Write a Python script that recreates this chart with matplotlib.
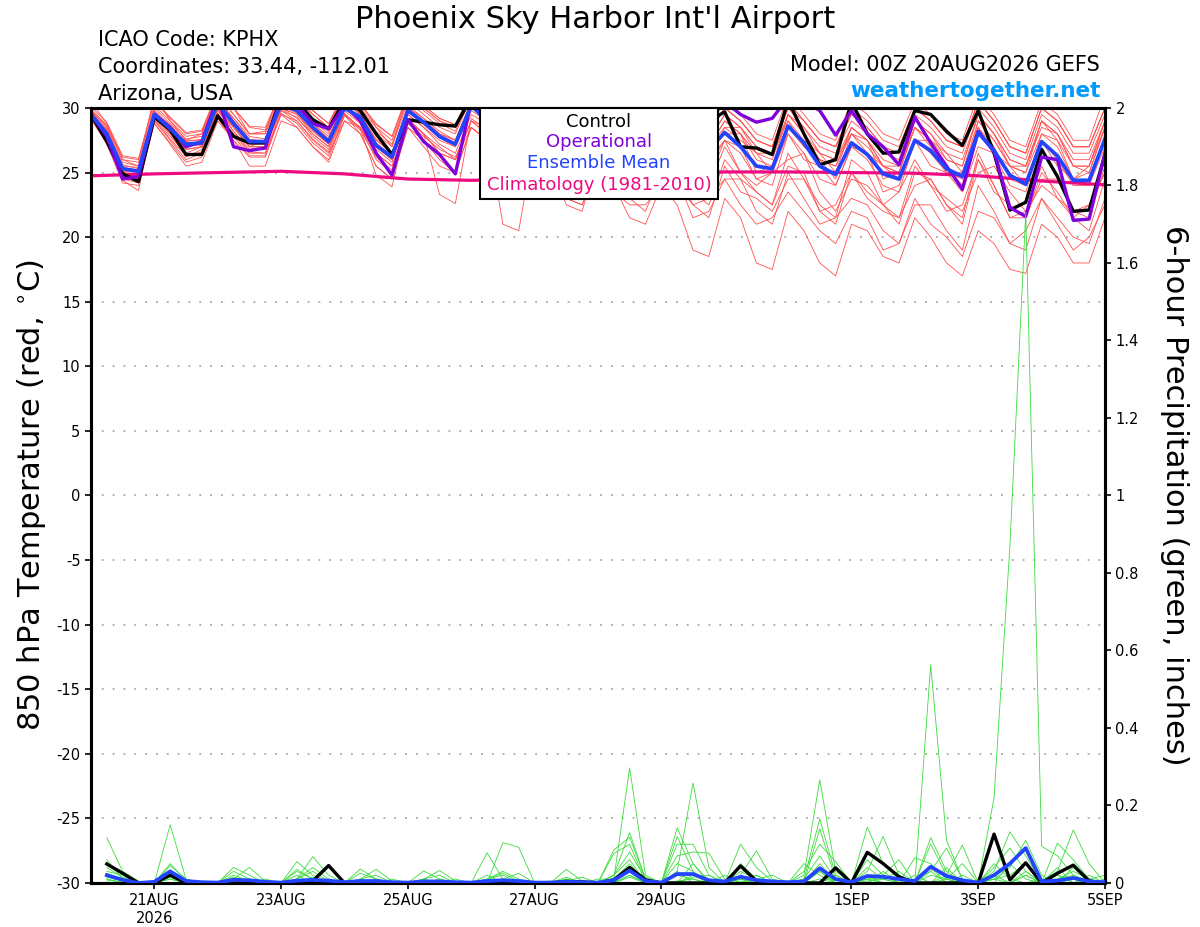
import matplotlib
matplotlib.use("Agg")
import matplotlib.pyplot as plt
from matplotlib.patches import Rectangle

# Horas de pronóstico (cada 6 h desde 00Z 20AUG2026)
horas = list(range(0, 385, 6))
horas_prec = list(range(6, 385, 6))
horas_clim = list(range(0, 385, 24))

# Temperatura a 850 hPa (°C)
control_t = [29.5, 27.4, 24.9, 24.3, 29.3, 28.3, 26.4, 26.4, 29.4, 27.8, 27.3, 27.3,
             30.8, 30.5, 29.1, 28.4, 30.6, 29.8, 28.0, 26.4, 29.1, 28.9, 28.7, 28.6,
             30.8, 29.5, 28.0, 27.5, 30.2, 29.0, 27.5, 27.0, 30.0, 28.8, 27.0, 26.5,
             30.2, 28.5, 27.5, 29.0, 29.7, 27.0, 26.9, 26.4, 30.6, 28.0, 25.6, 26.0,
             30.5, 28.0, 26.5, 26.6, 29.8, 29.5, 28.2, 27.1, 29.8, 26.5, 22.1, 22.7,
             26.8, 24.7, 22.0, 22.1, 26.4]
operacional_t = [29.5, 27.8, 24.5, 24.7, 29.5, 28.5, 27.0, 27.4, 30.8, 27.0, 26.7, 26.9,
                 30.8, 30.3, 28.8, 28.4, 30.2, 29.0, 26.5, 24.8, 29.1, 27.4, 26.4, 24.9,
                 30.5, 29.0, 27.5, 26.5, 30.0, 28.5, 27.0, 26.5, 29.5, 28.0, 26.5, 26.0,
                 30.2, 30.4, 30.3, 30.5, 30.5, 29.5, 28.9, 29.2, 30.8, 30.6, 29.8, 27.9,
                 29.8, 28.0, 27.0, 25.6, 29.3, 27.3, 25.5, 23.7, 28.2, 26.6, 22.3, 21.6,
                 26.2, 26.0, 21.3, 21.4, 26.5]
media_t = [29.5, 28.0, 25.3, 25.1, 29.5, 28.4, 27.2, 27.3, 30.4, 28.8, 27.4, 27.4,
           30.3, 29.8, 28.5, 27.4, 30.0, 29.3, 27.1, 26.2, 29.8, 28.9, 27.8, 27.2,
           30.2, 29.0, 27.5, 26.8, 29.3, 28.0, 26.5, 26.0, 28.8, 27.5, 26.2, 25.8,
           28.5, 27.5, 26.5, 26.8, 28.1, 27.0, 25.5, 25.3, 28.6, 27.3, 25.5, 24.85,
           27.3, 26.4, 24.9, 24.5, 27.5, 26.7, 25.3, 24.7, 28.1, 26.7, 24.8, 24.1,
           27.4, 26.3, 24.4, 24.4, 27.6]
climatologia_t = [24.75, 24.9, 25.0, 25.1, 24.9, 24.5, 24.4, 24.5, 24.7,
                  24.9, 25.05, 25.05, 25.0, 24.95, 24.75, 24.35, 24.05]

miembros_t = [
    [30.5, 28.8, 26, 25.5, 31, 29, 27.5, 28, 31.5, 30, 28, 28.2, 31.5, 31, 29.5, 28.5,
     31.5, 30.5, 28.5, 27, 31, 30, 29, 28.5, 31.5, 31, 29.5, 28.5, 30.5, 29.5, 28, 27.5,
     30.5, 29.5, 28, 27.5, 30.5, 29.5, 28.5, 28, 30, 29, 27.5, 27, 30.5, 29, 27.5, 27,
     29.5, 28.5, 27, 26.5, 30, 29, 27.5, 27, 30.5, 29, 27, 26.5, 30, 29, 27, 27, 30],
    [29.8, 28.5, 25.8, 25.5, 29.8, 28.5, 27, 27.2, 30.5, 29, 27.5, 27.2, 30.5, 30, 28.8, 27.8,
     30.5, 29.5, 27.5, 26.5, 30.2, 29.2, 28, 27.5, 30.5, 30, 28.5, 27.5, 29.5, 28.5, 27, 26.5,
     29, 28, 26.5, 26, 29.5, 28.5, 27.5, 27, 29, 28, 26.5, 26, 29.5, 28, 26.5, 26,
     28, 27, 25.5, 25, 28.5, 27.5, 26, 25.5, 29.5, 28, 26, 25.5, 29, 27.5, 25.5, 25.5, 29],
    [29.2, 27.5, 24.5, 24.2, 29, 27.5, 26, 26.5, 29.5, 28, 26.5, 26.5, 29.5, 29, 27.5, 26.5,
     29, 28.5, 26, 25, 29, 28, 26.5, 26, 29, 28.5, 27, 26, 27.5, 26.5, 25, 24.5,
     27, 26.5, 25.5, 24, 26, 25.5, 23, 24.5, 27.5, 25, 24, 25, 26, 26.5, 23.5, 22,
     24.5, 24, 22.5, 23.5, 26, 24, 23, 22, 25, 25.5, 23.5, 22, 24, 23, 21.5, 22.5, 25],
    [29.5, 28, 25.2, 25, 29.5, 28.2, 27.5, 27.5, 30.2, 28.5, 27, 27.5, 30, 29.5, 28.2, 27.2,
     30.2, 29, 27, 26, 29.5, 28.5, 27.5, 27, 30, 29.2, 27.5, 26.5, 29, 27.5, 26, 25.5,
     28.5, 27, 25.5, 25, 28.5, 27.5, 26, 26, 27.5, 26.5, 24.5, 24, 28, 26.5, 24.5, 24,
     27, 26, 24, 23.5, 27.5, 26.5, 25, 24.5, 28.5, 27, 24.5, 24, 27.5, 26, 24, 24, 28],
    [29.6, 28.2, 25, 24.8, 29.2, 27.8, 26.5, 27, 29.8, 28.5, 27, 27, 30, 29.2, 28, 27,
     29.5, 28.5, 26.5, 25.5, 29, 28, 27, 26, 29, 28, 26.5, 25.5, 28, 26.5, 25, 24.5,
     27.5, 25.5, 24, 24.5, 26, 24, 22.5, 23, 24.5, 24.5, 22, 21, 25, 23, 21, 21.5,
     23, 22.5, 20.5, 19.5, 22.5, 22.5, 20.5, 19, 24, 22, 19.5, 20.5, 23, 21.5, 20, 19.5, 23],
    [29.4, 27.8, 25.5, 25.4, 29.6, 28.6, 27.2, 27.1, 30.6, 29.2, 27.8, 27.6, 30.8, 30.2, 29, 28,
     30.8, 29.8, 28, 27, 30.5, 29.5, 28.5, 28, 30.8, 30.2, 28.8, 27.8, 30, 29, 27.5, 27,
     30, 29, 27.5, 27, 30, 29, 27.5, 27.5, 29.5, 28.5, 27, 26.5, 30, 28.5, 27, 26.5,
     29, 28, 26.5, 26, 29.5, 28.5, 27, 26.5, 30, 28.5, 26.5, 26, 29.5, 28.5, 26.5, 26.5, 29.5],
    [29.3, 27.2, 24.2, 24, 28.8, 27.3, 25.8, 26.2, 29.2, 27.5, 26.2, 26.2, 29.5, 28.5, 27, 26,
     29.5, 28, 25.5, 24.5, 28.5, 27, 25.5, 25, 28.5, 27.5, 25.5, 24.5, 27, 25.5, 23.5, 23,
     26, 24, 23, 22, 25, 25, 22.5, 21.5, 25.5, 23.5, 23, 22, 24.5, 24.5, 22, 21,
     25, 23, 22, 21.5, 24, 24.5, 22.5, 21, 26, 24, 21.5, 22, 25.5, 23, 22, 22.5, 25],
    [29.7, 28.4, 25.6, 25.3, 30, 28.8, 27.6, 27.8, 31, 29.5, 28, 28, 31, 30.5, 29.2, 28.2,
     31, 30, 28.2, 27.2, 30.8, 29.8, 28.8, 28.2, 31, 30.5, 29, 28, 30.5, 29.5, 28, 27.5,
     30.5, 29.5, 28, 27.5, 30.5, 29.5, 28.5, 28, 30, 29, 27.5, 27, 30, 29, 27.5, 27,
     29.5, 28.5, 27, 26.5, 30, 29, 27.5, 27, 30.5, 29, 27, 26.5, 30, 29, 27, 27, 30],
    [29.5, 27.7, 24.8, 24.5, 29.3, 28, 26.8, 27, 30, 28.2, 26.8, 27, 29.8, 29.3, 27.8, 26.8,
     29.8, 28.8, 26.8, 25.8, 29.5, 28.5, 27.2, 26.5, 29.5, 28.8, 27.2, 26.2, 28.5, 27.5, 26, 25.5,
     28, 27.5, 25.5, 26, 28.5, 26.5, 25, 25.5, 27.5, 27, 24.5, 25, 28, 26, 25.5, 24,
     27, 26.5, 23.5, 24, 27.5, 25.5, 25, 23.5, 27, 26.5, 24, 23.5, 27.5, 25.5, 24.5, 24, 27],
    [29.8, 28.6, 26, 25.8, 30.2, 29, 27.8, 28, 31, 29.5, 28, 28, 31, 30.5, 29.5, 28.5,
     31, 30, 28.5, 27.5, 31, 30, 29, 28.5, 31, 30.5, 29, 28, 30.5, 29.5, 28, 27.5,
     30, 29, 27.5, 27, 30, 29, 28, 27.5, 29.5, 28.5, 27, 26.5, 29.5, 28.5, 26.5, 26,
     28.5, 27.5, 26, 25.5, 29, 28, 26.5, 26, 29.5, 28, 26, 25.5, 29, 28, 26, 26, 29],
    [29.2, 27.6, 24.6, 24.3, 28.8, 27.2, 25.5, 25.8, 29, 27.5, 25.5, 25.5, 29, 28.5, 27, 25.8,
     29, 28, 25.5, 24.5, 28.5, 27.5, 26, 25, 28.5, 27.5, 25.5, 24, 26.5, 25, 23, 22.5,
     25.5, 23.5, 22.5, 22.5, 24, 24.5, 21.5, 22, 24.5, 22.5, 21, 21.5, 23.5, 22, 20.5, 19.5,
     22, 21.5, 19, 19.5, 23, 21, 20, 18.5, 22, 21.5, 19.5, 19, 23, 21, 19, 20, 22.5],
    [29.6, 28.3, 25.4, 25.2, 29.7, 28.7, 27.4, 27.6, 30.7, 29.2, 27.6, 27.4, 30.5, 30, 28.8, 27.6,
     30.5, 29.5, 27.6, 26.5, 30, 29, 28, 27.5, 30.2, 29.5, 28, 27, 29.5, 28.5, 27, 26.5,
     29.5, 28.5, 27.5, 26, 29.5, 28, 27.5, 27, 28.5, 28.5, 26.5, 26.5, 29, 27.5, 26.5, 25,
     28.5, 27.5, 25.5, 25.5, 28.5, 27.5, 26.5, 25, 29, 27.5, 25.5, 25.5, 28.5, 28, 25.5, 25, 28.5],
    [29.4, 27.9, 24.4, 23.6, 29.4, 28, 26.2, 26.8, 29.8, 28.2, 26.6, 26.5, 29.8, 29, 27.6, 26.6,
     29.6, 28.4, 24.8, 23.9, 29.2, 28, 23.3, 22.6, 29.2, 28.3, 21, 20.5, 27.5, 26, 22.5, 22,
     26.5, 25, 24, 23, 26.5, 26, 23.5, 22.5, 26, 24.5, 23.5, 22.5, 25.5, 25, 22, 22.5,
     25, 23.5, 22.5, 21.5, 25.5, 24, 22, 22.5, 26, 23.5, 22.5, 21.5, 24.5, 24.5, 22, 21.5, 25.5],
    [29.3, 27.5, 24.9, 24.7, 29.4, 28, 26.8, 27, 30, 28.5, 27, 27, 30, 29.5, 28, 27,
     29.5, 28.5, 26.5, 25.5, 29, 28, 26.5, 26, 28.5, 27.5, 25.5, 24.5, 27, 25.5, 23, 22.5,
     25.5, 24, 21.5, 21, 24, 22.5, 19, 18.5, 23, 21.5, 18, 17.5, 22, 20.5, 18, 17,
     21, 20.5, 18.5, 18, 21.5, 20, 18, 17, 20.5, 19.5, 17.5, 17.2, 21, 20, 18, 18, 21.5],
    [29.7, 28.1, 25.1, 25, 29.8, 28.6, 27.3, 27.2, 30.8, 29, 27.4, 27.4, 30.6, 30, 28.6, 27.6,
     30.4, 29.6, 27.3, 26.3, 30, 29.2, 28.2, 27.5, 30.5, 29.8, 28.2, 27.5, 29.8, 29, 27.5, 27,
     29.5, 28.8, 27, 26.5, 29.5, 28.5, 27, 27, 29, 28, 26, 25.5, 29.5, 28, 26, 25.5,
     28.5, 27.5, 25.5, 25, 29, 28, 26, 25.5, 29.5, 28, 25.5, 25, 29, 28, 25.5, 25.5, 29],
    [29.9, 28.7, 26.2, 26, 30.5, 29.2, 28, 28.2, 31.2, 30, 28.5, 28.3, 31.2, 30.7, 29.8, 28.8,
     31.2, 30.2, 28.7, 27.8, 31.2, 30.2, 29.2, 28.7, 31.2, 30.8, 29.3, 28.3, 31, 30, 28.5, 28,
     31, 30, 28.5, 28, 31, 30, 29, 28.5, 30.5, 29.5, 28, 27.5, 31, 29.5, 28, 27.5,
     30.5, 29.5, 28, 27.5, 30.5, 29.5, 28, 27.5, 31, 29.5, 27.5, 27, 30.5, 29.5, 27.5, 27.5, 31],
    [29.5, 28, 25, 24.9, 29.6, 28.3, 27, 27.2, 30.3, 28.7, 27.2, 27.2, 30.2, 29.6, 28.3, 27.2,
     30, 29, 27, 26, 29.7, 28.7, 27.7, 27, 29.8, 29, 27.3, 26.3, 28.5, 27, 25, 24.5,
     28, 26, 25.5, 24.5, 27, 26.5, 24, 24, 27, 25, 23.5, 22.5, 26.5, 24.5, 22.5, 21.5,
     26, 25, 22.5, 21, 25, 24.5, 22.5, 21.5, 26.5, 24, 21.5, 21.5, 25, 23.5, 21.5, 20.5, 24.5],
    [29.1, 27.3, 24.7, 24.6, 29.1, 27.6, 26.3, 26.6, 29.6, 27.8, 26.3, 26.3, 29.6, 28.8, 27.3, 26.3,
     29.4, 28.3, 26.2, 25.2, 28.8, 27.8, 26.8, 26.2, 29, 28, 26.7, 25.8, 28.8, 27.8, 26.2, 25.5,
     29, 27, 26.5, 25.5, 29, 27.5, 26, 26.5, 28, 28, 25, 25.5, 28.5, 27, 26, 24.5,
     28, 26.5, 25.5, 24.5, 27.5, 27.5, 25, 25, 28.5, 26.5, 25.5, 24, 28, 27, 24.5, 25.5, 28.5],
    [29.6, 28.2, 25.3, 25.1, 29.5, 28.4, 27.1, 27.3, 30.4, 28.9, 27.3, 27.3, 30.3, 29.8, 28.4, 27.3,
     30.1, 29.2, 27, 26, 29.8, 28.9, 27.7, 27.1, 30, 29.4, 27.9, 26.9, 29.2, 28, 26.5, 26,
     29.5, 28.5, 26, 26.5, 29, 28, 27, 26, 28.5, 27.5, 26.5, 25, 29, 27, 26, 25.5,
     28, 27.5, 24.5, 25, 28.5, 27, 25.5, 24, 29, 27.5, 25.5, 25, 28, 27.5, 24.5, 25, 28.5],
    [30.1, 28.9, 26.3, 26.1, 30.6, 29.3, 28.1, 28.3, 31.3, 30, 28.6, 28.5, 31.3, 30.8, 29.8, 28.8,
     31.3, 30.3, 28.8, 27.8, 31, 30.2, 29.2, 28.7, 31.3, 30.8, 29.3, 28.3, 30.8, 29.8, 28.3, 27.8,
     30.5, 29.5, 28, 27.5, 30.5, 29.5, 28.5, 28, 30, 29, 27.5, 27, 30.5, 29, 27.5, 27,
     30, 29, 27.5, 27, 30, 29, 27.5, 27, 30.5, 29, 27, 26.5, 30, 29, 27, 27, 30],
]

# Precipitación en 6 h (pulgadas), desde la hora 6
control_p = [0.049, 0.025, 0, 0, 0.02, 0, 0, 0,
             0.008, 0.003, 0, 0, 0, 0.005, 0.045, 0,
             0, 0, 0, 0, 0, 0, 0, 0,
             0, 0, 0, 0, 0, 0.004, 0.003, 0,
             0.008, 0.04, 0.008, 0, 0, 0, 0, 0,
             0.044, 0.005, 0, 0, 0, 0, 0.039, 0,
             0.079, 0.05, 0.016, 0, 0, 0, 0, 0,
             0.126, 0.008, 0.052, 0, 0.025, 0.046, 0.005, 0]
media_p = [0.02, 0.008, 0, 0.003, 0.03, 0.005, 0.002, 0.001,
           0.008, 0.007, 0.003, 0.001, 0.006, 0.008, 0.006, 0.002,
           0.005, 0.005, 0.002, 0.001, 0.004, 0.004, 0.002, 0.001,
           0.005, 0.007, 0.005, 0.001, 0.001, 0.003, 0.002, 0.001,
           0.007, 0.032, 0.005, 0.001, 0.023, 0.023, 0.007, 0.004,
           0.016, 0.007, 0.004, 0.002, 0.004, 0.038, 0.01, 0.002,
           0.018, 0.016, 0.01, 0.005, 0.042, 0.018, 0.007, 0.001,
           0.02, 0.05, 0.09, 0.004, 0.006, 0.013, 0.004, 0.002]

miembros_p = [
    [0.117, 0.03, 0.005, 0, 0.02, 0.004, 0, 0, 0, 0, 0, 0, 0.055, 0.02, 0.003, 0,
     0, 0, 0, 0, 0, 0, 0, 0, 0, 0.104, 0.092, 0, 0, 0, 0, 0,
     0.01, 0.297, 0.02, 0, 0.005, 0.01, 0, 0, 0.005, 0, 0, 0, 0.01, 0.07, 0.01, 0,
     0.01, 0, 0, 0, 0.563, 0.11, 0.01, 0, 0.05, 0.01, 0, 0.005, 0.03, 0.137, 0.05, 0],
    [0.06, 0.01, 0, 0, 0.15, 0.01, 0, 0, 0.04, 0.02, 0, 0, 0, 0.005, 0, 0,
     0.036, 0.01, 0, 0, 0, 0, 0, 0, 0, 0, 0, 0, 0, 0.035, 0.005, 0,
     0, 0.02, 0, 0, 0.142, 0.05, 0.005, 0, 0.01, 0, 0, 0, 0.02, 0.266, 0.03, 0,
     0.005, 0.01, 0, 0, 0, 0.01, 0, 0, 0.22, 0.87, 1.73, 0.095, 0.07, 0.02, 0.005, 0],
    [0.04, 0.015, 0, 0, 0.05, 0.005, 0, 0, 0.01, 0.04, 0.005, 0, 0.01, 0.068, 0.02, 0,
     0, 0, 0, 0, 0.01, 0.032, 0.005, 0, 0.078, 0.01, 0, 0, 0, 0, 0, 0,
     0.02, 0.13, 0.01, 0, 0.03, 0.258, 0.04, 0, 0, 0, 0, 0, 0, 0.03, 0, 0,
     0.144, 0.05, 0.01, 0, 0, 0.02, 0.098, 0, 0, 0, 0.02, 0, 0.103, 0.06, 0.01, 0.02],
    [0.03, 0.02, 0, 0, 0.045, 0.01, 0, 0, 0, 0.005, 0, 0, 0.035, 0.01, 0, 0,
     0.01, 0.035, 0.005, 0, 0.031, 0.01, 0, 0, 0.01, 0.02, 0, 0, 0, 0.01, 0, 0,
     0.085, 0.118, 0.01, 0, 0.02, 0.01, 0, 0, 0.1, 0.04, 0.005, 0, 0.01, 0.165, 0.02, 0,
     0.02, 0.01, 0, 0.065, 0.05, 0.01, 0, 0, 0.03, 0.132, 0.07, 0, 0.01, 0.02, 0, 0],
    [0.02, 0.005, 0, 0, 0.03, 0.005, 0, 0, 0.03, 0.01, 0, 0, 0.01, 0.04, 0.01, 0,
     0.025, 0.01, 0, 0, 0, 0, 0, 0, 0.01, 0.03, 0.01, 0, 0, 0, 0.005, 0,
     0.076, 0.1, 0.005, 0, 0.12, 0.03, 0, 0, 0.02, 0.083, 0.01, 0, 0, 0.14, 0.01, 0,
     0.03, 0.12, 0.02, 0, 0.117, 0.03, 0, 0, 0.01, 0.04, 0.11, 0.02, 0, 0.01, 0, 0.005],
    [0.005, 0.01, 0, 0, 0.02, 0, 0, 0, 0.02, 0.005, 0, 0, 0.03, 0.01, 0.04, 0,
     0.01, 0.02, 0, 0, 0, 0, 0, 0, 0, 0.01, 0.025, 0, 0, 0.015, 0, 0,
     0.02, 0.08, 0.01, 0, 0.1, 0.1, 0.02, 0, 0.05, 0.01, 0, 0, 0.05, 0.02, 0, 0,
     0.06, 0.02, 0, 0.01, 0.03, 0.09, 0.01, 0, 0.04, 0.09, 0.03, 0, 0.02, 0.01, 0, 0],
    [0.015, 0.005, 0, 0, 0.01, 0, 0, 0, 0.015, 0.005, 0, 0, 0.01, 0.03, 0.005, 0,
     0, 0.005, 0, 0, 0.01, 0.02, 0, 0, 0.01, 0.025, 0.005, 0, 0, 0.005, 0.015, 0,
     0.01, 0.05, 0, 0, 0.07, 0.08, 0.077, 0.01, 0.01, 0.02, 0, 0, 0.03, 0.1, 0.055, 0,
     0.01, 0.02, 0.06, 0, 0.02, 0.01, 0.05, 0, 0.01, 0.02, 0.05, 0.01, 0.01, 0.03, 0.01, 0],
    [0.01, 0, 0, 0, 0.01, 0, 0, 0, 0, 0.01, 0, 0, 0.01, 0, 0, 0,
     0, 0, 0.01, 0, 0, 0, 0, 0, 0, 0, 0, 0, 0.005, 0, 0, 0.01,
     0.01, 0.03, 0, 0, 0.05, 0.03, 0, 0, 0.03, 0.01, 0.02, 0, 0, 0.01, 0, 0,
     0.04, 0.01, 0.03, 0, 0.1, 0.02, 0, 0, 0.02, 0, 0.03, 0, 0, 0, 0.02, 0],
    [0, 0, 0, 0, 0.015, 0, 0, 0, 0, 0, 0.01, 0, 0, 0.015, 0, 0,
     0, 0, 0, 0, 0, 0, 0.01, 0, 0, 0, 0, 0, 0, 0, 0, 0,
     0, 0.04, 0.015, 0, 0, 0.05, 0, 0.02, 0, 0, 0, 0, 0, 0.05, 0, 0,
     0, 0.03, 0, 0.02, 0, 0, 0, 0, 0, 0.05, 0.01, 0, 0.04, 0, 0, 0.01],
    [0.025, 0.01, 0, 0, 0.02, 0, 0, 0, 0, 0, 0, 0, 0, 0, 0.01, 0,
     0.01, 0, 0, 0, 0, 0, 0, 0, 0.02, 0, 0, 0, 0, 0, 0, 0,
     0.02, 0.06, 0, 0, 0, 0.02, 0, 0, 0, 0.02, 0, 0, 0, 0.03, 0, 0,
     0.02, 0, 0, 0, 0, 0.04, 0, 0, 0, 0, 0, 0.01, 0, 0.04, 0, 0],
    [0.01, 0, 0, 0, 0.025, 0, 0, 0, 0, 0, 0, 0, 0, 0.01, 0, 0,
     0, 0.01, 0, 0, 0, 0.01, 0, 0, 0, 0.01, 0, 0, 0, 0, 0, 0,
     0, 0.02, 0, 0, 0.03, 0, 0, 0, 0.01, 0, 0, 0, 0, 0.04, 0, 0,
     0, 0.02, 0, 0, 0.03, 0, 0.02, 0, 0, 0, 0.02, 0, 0, 0.015, 0, 0],
    [0, 0.005, 0, 0, 0, 0, 0, 0, 0.01, 0, 0, 0, 0.02, 0, 0, 0,
     0, 0, 0, 0, 0.01, 0, 0, 0, 0, 0, 0, 0, 0, 0.01, 0, 0,
     0, 0.015, 0, 0, 0, 0.015, 0.02, 0, 0, 0, 0, 0, 0, 0, 0.02, 0,
     0.01, 0, 0, 0, 0.04, 0, 0, 0, 0.01, 0, 0, 0, 0.02, 0, 0.01, 0],
]

etiquetas_x = ["21AUG\n2026", "23AUG", "25AUG", "27AUG", "29AUG", "1SEP", "3SEP", "5SEP"]
horas_x = [24, 72, 120, 168, 216, 288, 336, 384]

rojo = "#FF5050"
verde = "#3CDC3C"
morado = "#8000DC"
azul = "#2244FF"
rosa = "#EE0A80"

fig = plt.figure(figsize=(12, 9.27), dpi=100)
ax = fig.add_axes([0.0758, 0.0475, 0.845, 0.836])
ax2 = ax.twinx()

# Temperatura (eje izquierdo)
for serie in miembros_t:
    ax.plot(horas, serie, color=rojo, linewidth=0.6, zorder=2)
ax.plot(horas_clim, climatologia_t, color=rosa, linewidth=2.3, zorder=3)
ax.plot(horas, control_t, color="black", linewidth=2.4, zorder=4)
ax.plot(horas, operacional_t, color=morado, linewidth=2.4, zorder=5)
ax.plot(horas, media_t, color=azul, linewidth=2.7, zorder=6)

# Precipitación (eje derecho)
for serie in miembros_p:
    ax2.plot(horas_prec, serie, color=verde, linewidth=0.6, zorder=2)
ax2.plot(horas_prec, control_p, color="black", linewidth=2.4, zorder=4)
ax2.plot(horas_prec, media_p, color=azul, linewidth=2.7, zorder=5)

ax.set_xlim(0, 384)
ax.set_ylim(-30, 30)
ax2.set_ylim(0, 2)

ax.set_yticks(range(-30, 31, 5))
ax.set_yticklabels([str(v) for v in range(-30, 31, 5)])
ticks_p = [round(0.2 * k, 1) for k in range(11)]
ax2.set_yticks(ticks_p)
ax2.set_yticklabels([f"{v:g}" for v in ticks_p])
ax.set_xticks(horas_x)
ax.set_xticklabels(etiquetas_x)

ax.yaxis.grid(True, color="#A8A8A8", linewidth=1.3, dashes=(1, 5))
ax.set_axisbelow(True)

for a in (ax, ax2):
    for s in a.spines.values():
        s.set_linewidth(2.2)
    a.tick_params(direction="out", length=4.5, width=1.2, labelsize=10.5, pad=3)

# Cuadro de leyenda sobre las líneas
ax2.add_patch(Rectangle((0.3836, 0.8826), 0.2347, 0.1174, transform=ax2.transAxes,
                        facecolor="white", edgecolor="black", linewidth=1.5,
                        zorder=10, clip_on=False))
leyenda = [("Control", "black", 0.9759), ("Operational", morado, 0.950),
           ("Ensemble Mean", azul, 0.9222), ("Climatology (1981-2010)", rosa, 0.8948)]
for texto, color, y in leyenda:
    ax2.text(0.501, y, texto, color=color, fontsize=13, ha="center", va="baseline",
             transform=ax2.transAxes, zorder=11)

# Encabezados
fig.text(0.496, 0.9695, "Phoenix Sky Harbor Int'l Airport", fontsize=22, ha="center", va="baseline")
fig.text(0.0817, 0.9507, "ICAO Code: KPHX", fontsize=15, ha="left", va="baseline")
fig.text(0.0817, 0.9209, "Coordinates: 33.44, -112.01", fontsize=15, ha="left", va="baseline")
fig.text(0.0817, 0.8921, "Arizona, USA", fontsize=15, ha="left", va="baseline")
fig.text(0.9167, 0.9237, "Model: 00Z 20AUG2026 GEFS", fontsize=15, ha="right", va="baseline")
fig.text(0.9172, 0.8957, "weathertogether.net", fontsize=15.5, fontweight="bold",
         color="#0099FF", ha="right", va="baseline")

fig.text(0.026, 0.466, "850 hPa Temperature (red, $^{\\circ}$C)", fontsize=22,
         rotation=90, ha="center", va="center")
fig.text(0.979, 0.466, "6-hour Precipitation (green, inches)", fontsize=22,
         rotation=270, ha="center", va="center")

fig.savefig("out.png", dpi=100)
